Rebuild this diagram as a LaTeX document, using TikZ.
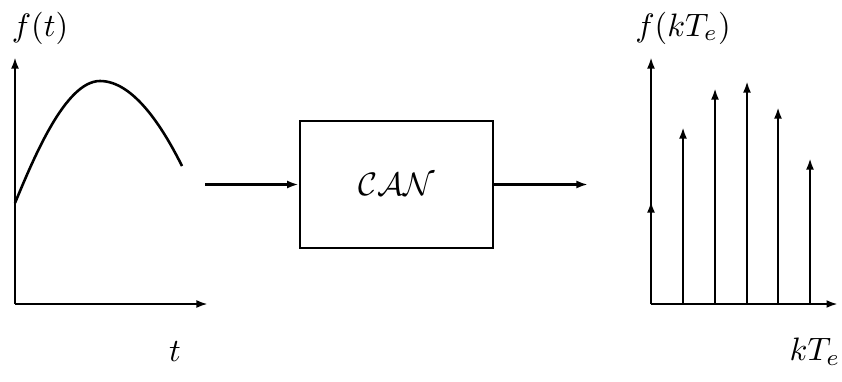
\documentclass[tikz,border=0pt]{standalone}
\usetikzlibrary{arrows.meta}
\begin{document}
\begin{tikzpicture}[x=0.33pt,y=-0.33pt,
  ln/.style={line width=0.85pt},
  arr/.style={ln,-{Latex[length=3.8pt,width=2.6pt]}},
  lab/.style={inner sep=0pt,scale=1.07}]
\useasboundingbox (0,0) rectangle (842,381);
% left graph
\coordinate (lo) at (15,304);
\coordinate (ly) at (15,57);
\coordinate (lx) at (208,304);
\draw[arr] (lo) -- (ly);
\draw[arr] (lo) -- (lx);
\draw[ln] (15,203) .. controls (33,160) and (65,81) .. (100,81)
  .. controls (135,81) and (165,132) .. (182,166);
\node[lab] (ft) at (40,28) {$f(t)$};
\node[lab] (t) at (175,352) {$t$};
% box
\node[draw,ln,minimum width=193*0.33pt,minimum height=127*0.33pt,inner sep=0pt] (can) at (396.5,184.5) {\scalebox{1.07}{$\mathcal{CAN}$}};
\coordinate (in) at (205,184.5);
\coordinate (out) at (588,184.5);
\draw[arr] (in) -- (can.west);
\draw[arr] (can.east) -- (out);
% right graph
\coordinate (ro) at (651,304);
\coordinate (ry) at (651,57);
\coordinate (rx) at (838,304);
\draw[arr] (ro) -- (ry);
\draw[arr] (ro) -- (rx);
\draw[arr] (ro) -- (651,201);
\foreach \x/\y in {683/127,715/88,747/81,778/107,810/158}{
  \draw[arr] (\x,304) -- (\x,\y);
}
\node[lab] (fk) at (683,28) {$f(kT_e)$};
\node[lab] (kt) at (815,352) {$kT_e$};
\end{tikzpicture}
\end{document}
